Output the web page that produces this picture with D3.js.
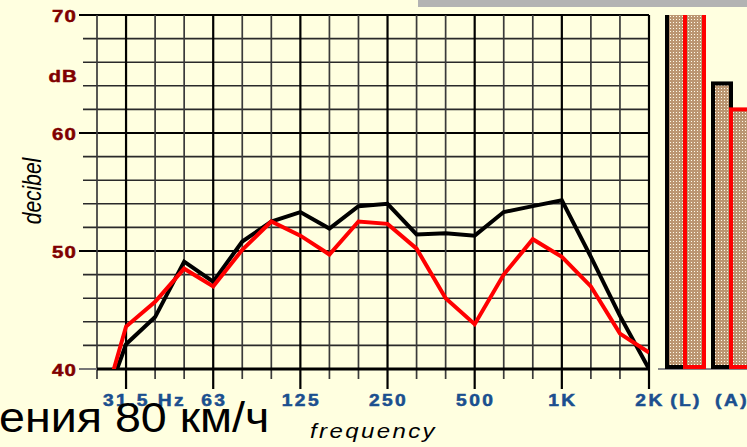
<!DOCTYPE html>
<html>
<head>
<meta charset="utf-8">
<script src="https://cdn.jsdelivr.net/npm/d3@7"></script>
<style>
  html, body { margin: 0; padding: 0; background: #ffffe0; overflow: hidden; }
  svg { display: block; }
</style>
</head>
<body>
<svg id="chart" width="747" height="447"></svg>
<script>
// third-octave bands, 25 Hz .. 2 kHz
var bands = ["25", "31.5", "40", "50", "63", "80", "100", "125", "160", "200",
             "250", "315", "400", "500", "630", "800", "1K", "1.25K", "1.6K", "2K"];
var blackLevels = [35.3, 42.1, 44.4, 49.1, 47.4, 50.8, 52.5, 53.3, 51.9, 53.8,
                   54.0, 51.4, 51.5, 51.3, 53.3, 53.8, 54.3, 49.5, 44.5, 40.0];
var redLevels = [35.0, 43.6, 45.7, 48.5, 47.0, 50.1, 52.5, 51.3, 49.7, 52.5,
                 52.3, 50.2, 46.0, 43.8, 48.0, 51.0, 49.5, 47.0, 43.0, 41.4];

// labelled octave bands and their text
var octaveBands = ["31.5", "63", "125", "250", "500", "1K", "2K"];
var octaveLabels = ["31.5 Hz", "63", "125", "250", "500", "1K", "2K"];

// overall levels (L) linear, (A) weighted
var totals = ["(L)", "(A)"];
var blackTotals = [74, 64.2];
var redTotals = [73, 62.0];

var yTickValues = [70, 60, 50, 40];

var svg = d3.select('#chart');
var sx = 1.2; // the picture is stretched sideways

var margin = {top: 15, left: 97, right: 649, bottom: 369};

var x = d3.scalePoint().domain(bands).range([margin.left, margin.right]);
var y = d3.scaleLinear().domain([40, 70]).range([margin.bottom, margin.top]);
var xb = d3.scaleBand().domain(totals).range([662, 754]).padding(0);

// top grey strip
svg.append('rect')
    .attr('x', 418).attr('y', 0)
    .attr('width', 329).attr('height', 7)
    .attr('fill', '#b3b3b3');

// hatch pattern for the bars
var defs = svg.append('defs');
var pat = defs.append('pattern')
    .attr('id', 'hatch')
    .attr('width', 3).attr('height', 3)
    .attr('patternUnits', 'userSpaceOnUse');
pat.append('rect').attr('width', 3).attr('height', 3).attr('fill', '#bb9672');
pat.append('rect').attr('x', 1).attr('y', 1).attr('width', 1).attr('height', 1).attr('fill', '#fffbea');

defs.append('clipPath').attr('id', 'plotClip')
    .append('rect')
    .attr('x', margin.left).attr('y', margin.top)
    .attr('width', margin.right - margin.left)
    .attr('height', margin.bottom - margin.top);

defs.append('clipPath').attr('id', 'barClip')
    .append('rect')
    .attr('x', 655).attr('y', margin.top)
    .attr('width', 100)
    .attr('height', margin.bottom - margin.top);

// horizontal grid (every 2 dB)
var hGrid = svg.append('g');
hGrid.selectAll('line')
    .data(d3.range(40, 71, 2))
    .enter().append('line')
    .attr('x1', d => d % 10 === 0 ? 79 : 83)
    .attr('x2', margin.right)
    .attr('y1', d => y(d))
    .attr('y2', d => y(d))
    .attr('stroke', d => d % 10 === 0 ? '#000' : '#2a2a2a')
    .attr('stroke-width', d => d % 10 === 0 ? 2 : 1.6);

// vertical grid (every third octave)
var vGrid = svg.append('g');
vGrid.selectAll('line')
    .data(bands)
    .enter().append('line')
    .attr('x1', d => x(d))
    .attr('x2', d => x(d))
    .attr('y1', margin.top)
    .attr('y2', d => octaveBands.indexOf(d) >= 0 ? 389 : 379)
    .attr('stroke', d => octaveBands.indexOf(d) >= 0 ? '#000' : '#3a3a3a')
    .attr('stroke-width', d => octaveBands.indexOf(d) >= 0 ? 2.2 : 1.7);

// grey stubs of the axis lines left of the frame
svg.append('line')
    .attr('x1', 79).attr('x2', margin.left)
    .attr('y1', y(40)).attr('y2', y(40))
    .attr('stroke', '#777').attr('stroke-width', 2);

// bottom axis line
svg.append('line')
    .attr('x1', margin.left).attr('x2', margin.right)
    .attr('y1', y(40)).attr('y2', y(40))
    .attr('stroke', '#000').attr('stroke-width', 3);

// bar baseline
svg.append('line')
    .attr('x1', 658).attr('x2', 747)
    .attr('y1', y(40)).attr('y2', y(40))
    .attr('stroke', '#888').attr('stroke-width', 2);

// spectrum lines
var line = d3.line()
    .x((d, i) => x(bands[i]))
    .y(d => y(d));

var lines = svg.append('g').attr('clip-path', 'url(#plotClip)');
lines.append('path')
    .datum(blackLevels)
    .attr('d', line)
    .attr('fill', 'none')
    .attr('stroke', '#000')
    .attr('stroke-width', 4)
    .attr('stroke-linejoin', 'miter');
lines.append('path')
    .datum(redLevels)
    .attr('d', line)
    .attr('fill', 'none')
    .attr('stroke', '#ff0000')
    .attr('stroke-width', 4)
    .attr('stroke-linejoin', 'miter');

// total level bars
var bars = svg.append('g').attr('clip-path', 'url(#barClip)');
bars.selectAll('.bar-black')
    .data(totals)
    .enter().append('rect')
    .attr('class', 'bar-black')
    .attr('x', d => xb(d) + 5)
    .attr('width', 18)
    .attr('y', (d, i) => y(blackTotals[i]))
    .attr('height', (d, i) => y(40) - 2 - y(blackTotals[i]))
    .attr('fill', 'url(#hatch)')
    .attr('stroke', '#000')
    .attr('stroke-width', 4);
bars.selectAll('.bar-red')
    .data(totals)
    .enter().append('rect')
    .attr('class', 'bar-red')
    .attr('x', d => xb(d) + 23)
    .attr('width', 19)
    .attr('y', (d, i) => y(redTotals[i]))
    .attr('height', (d, i) => y(40) - 2 - y(redTotals[i]))
    .attr('fill', 'url(#hatch)')
    .attr('stroke', '#ff0000')
    .attr('stroke-width', 4);

// text helper, stretched sideways like the picture
function label(px, py, txt, o) {
    var t = svg.append('text')
        .attr('transform', 'translate(' + px + ',' + py + ') scale(' + (o.sx || sx) + ',1)' + (o.rotate ? ' rotate(' + o.rotate + ')' : ''))
        .attr('text-anchor', o.anchor || 'middle')
        .attr('font-family', '"Liberation Sans", Arial, sans-serif')
        .attr('font-size', o.size)
        .attr('font-weight', o.weight || 'normal')
        .attr('font-style', o.style || 'normal')
        .attr('letter-spacing', o.spacing || 0)
        .attr('fill', o.fill || '#000')
        .text(txt);
    if (o.weight === 'bold') {
        t.attr('stroke', o.fill).attr('stroke-width', 0.5);
    }
    return t;
}

// y labels
yTickValues.forEach(function(v) {
    label(77, y(v) + 6.5, String(v), {anchor: 'end', size: 17, weight: 'bold', fill: '#800000', spacing: 1});
});
label(78, y(65) + 8, 'dB', {anchor: 'end', size: 17, weight: 'bold', fill: '#800000', spacing: 1});
label(41, 191, 'decibel', {size: 21, style: 'italic', rotate: -90});

// x labels
octaveBands.forEach(function(b, i) {
    if (i === 0) {
        label(103, 406, octaveLabels[i], {anchor: 'start', size: 16, weight: 'bold', fill: '#1b4f8f', spacing: 2});
    } else {
        label(x(b) + 1, 406, octaveLabels[i], {size: 16, weight: 'bold', fill: '#1b4f8f', spacing: 2});
    }
});
totals.forEach(function(t) {
    label(xb(t) + xb.bandwidth() / 2 + 1, 406, t, {size: 16, weight: 'bold', fill: '#1b4f8f', spacing: 2});
});

label(310, 438, 'frequency', {anchor: 'start', size: 20, style: 'italic', spacing: 2});

// slide caption cut at the left edge
label(-1, 432, 'ения 80 км/ч', {anchor: 'start', size: 42, sx: 1.11});
</script>
</body>
</html>
